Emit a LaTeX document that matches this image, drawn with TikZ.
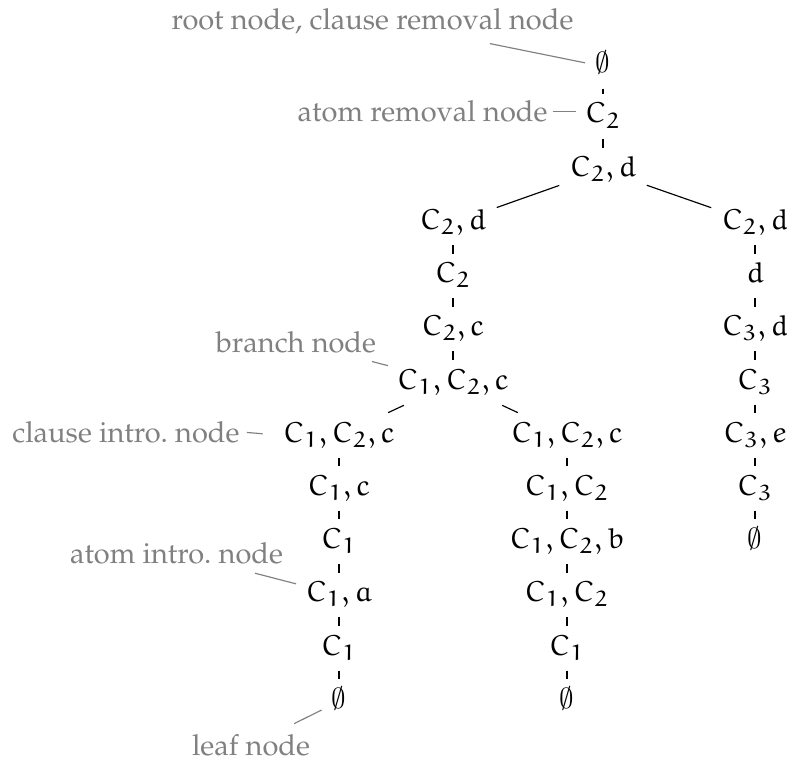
\documentclass[tikz,border=0pt]{standalone}
\usepackage[T1]{fontenc}
\usepackage{mathpazo}
% Euler roman for the set labels
\DeclareSymbolFont{eul}{U}{eur}{m}{n}
\DeclareMathSymbol{C}{\mathalpha}{eul}{`C}
\DeclareMathSymbol{a}{\mathalpha}{eul}{`a}
\DeclareMathSymbol{b}{\mathalpha}{eul}{`b}
\DeclareMathSymbol{c}{\mathalpha}{eul}{`c}
\DeclareMathSymbol{d}{\mathalpha}{eul}{`d}
\DeclareMathSymbol{e}{\mathalpha}{eul}{`e}
\DeclareMathSymbol{1}{\mathalpha}{eul}{`1}
\DeclareMathSymbol{2}{\mathalpha}{eul}{`2}
\DeclareMathSymbol{3}{\mathalpha}{eul}{`3}
\DeclareMathSymbol{,}{\mathpunct}{eul}{"3B}
% slashed-zero empty set from Computer Modern symbols
\DeclareSymbolFont{cmsym}{OMS}{cmsy}{m}{n}
\DeclareMathSymbol{\eset}{\mathord}{cmsym}{"3B}
\definecolor{notegray}{gray}{0.5}
\tikzset{
  tn/.style={anchor=base, inner sep=0pt, text height=9.7pt, text depth=5.2pt},
  note/.style={anchor=base, inner sep=0pt, text height=7pt, text depth=0pt, text=notegray},
  tline/.style={line width=0.4pt},
  nline/.style={draw=notegray, line width=0.4pt},
}
\begin{document}
\begin{tikzpicture}[x=0.345pt, y=-0.345pt]
\useasboundingbox (0,0) rectangle (787,760);

% trunk
\node[tn] (root) at (603,73) {$\eset$};
\node[tn] (c2)   at (603,123) {$C_2$};
\node[tn] (c2d)  at (603,176.5) {$C_2, d$};

% left subtree
\node[tn] (l3) at (453,229.5) {$C_2, d$};
\node[tn] (l4) at (453,282.5) {$C_2$};
\node[tn] (l5) at (453,335.5) {$C_2, c$};
\node[tn] (l6) at (453,389) {$C_1, C_2, c$};

% left-left branch
\node[tn] (a7)  at (339,442) {$C_1, C_2, c$};
\node[tn] (a8)  at (339,495) {$C_1, c$};
\node[tn] (a9)  at (339,548) {$C_1$};
\node[tn] (a10) at (339,601.5) {$C_1, a$};
\node[tn] (a11) at (339,655) {$C_1$};
\node[tn] (a12) at (339,708) {$\eset$};

% left-right branch
\node[tn] (b7)  at (567,442) {$C_1, C_2, c$};
\node[tn] (b8)  at (567,495) {$C_1, C_2$};
\node[tn] (b9)  at (567,548) {$C_1, C_2, b$};
\node[tn] (b10) at (567,601.5) {$C_1, C_2$};
\node[tn] (b11) at (567,655) {$C_1$};
\node[tn] (b12) at (567,708) {$\eset$};

% right column
\node[tn] (r3) at (755,229.5) {$C_2, d$};
\node[tn] (r4) at (755,282.5) {$d$};
\node[tn] (r5) at (755,335.5) {$C_3, d$};
\node[tn] (r6) at (755,389) {$C_3$};
\node[tn] (r7) at (755,442) {$C_3, e$};
\node[tn] (r8) at (755,495) {$C_3$};
\node[tn] (r9) at (755,548) {$\eset$};

% vertical edges
\foreach \p/\c in {root/c2, c2/c2d,
                   l3/l4, l4/l5, l5/l6,
                   a7/a8, a8/a9, a9/a10, a10/a11, a11/a12,
                   b7/b8, b8/b9, b9/b10, b10/b11, b11/b12,
                   r3/r4, r4/r5, r5/r6, r6/r7, r7/r8, r8/r9}
  \draw[tline] (\p) -- (\c);

% branching edges
\draw[tline, shorten <=16pt, shorten >=16pt] (c2d.center) -- (l3.center);
\draw[tline, shorten <=16pt, shorten >=16pt] (c2d.center) -- (r3.center);
\draw[tline, shorten <=18.7pt, shorten >=18.7pt] (l6.center) -- (a7.center);
\draw[tline, shorten <=18.7pt, shorten >=18.7pt] (l6.center) -- (b7.center);

% annotations
\node[note] (nroot) at (372.5,30) {root node, clause removal node};
\node[note, anchor=base east] (nar) at (548,122) {atom removal node};
\node[note] (nbr) at (296,352) {branch node};
\node[note, anchor=base east] (nci) at (240,442) {clause intro.\ node};
\node[note] (nai) at (176.5,563) {atom intro.\ node};
\node[note] (nleaf) at (251,755) {leaf node};

\draw[nline, shorten <=41.3pt, shorten >=6.3pt] (nroot.center) -- (root.center);
\draw[nline, shorten <=1.7pt, shorten >=3pt] (nar.east) -- (nar.east -| c2.west);
\draw[nline, shorten <=27.1pt, shorten >=23.2pt] (nbr.center) -- (l6.center);
\draw[nline, shorten <=2.4pt, shorten >=6.9pt] (nci.east) -- (a7.west);
\draw[nline, shorten <=28pt, shorten >=15.3pt] (nai.center) -- (a10.center);
\draw[nline, shorten <=16.6pt, shorten >=6.7pt] (nleaf.center) -- (a12.center);
\end{tikzpicture}
\end{document}
